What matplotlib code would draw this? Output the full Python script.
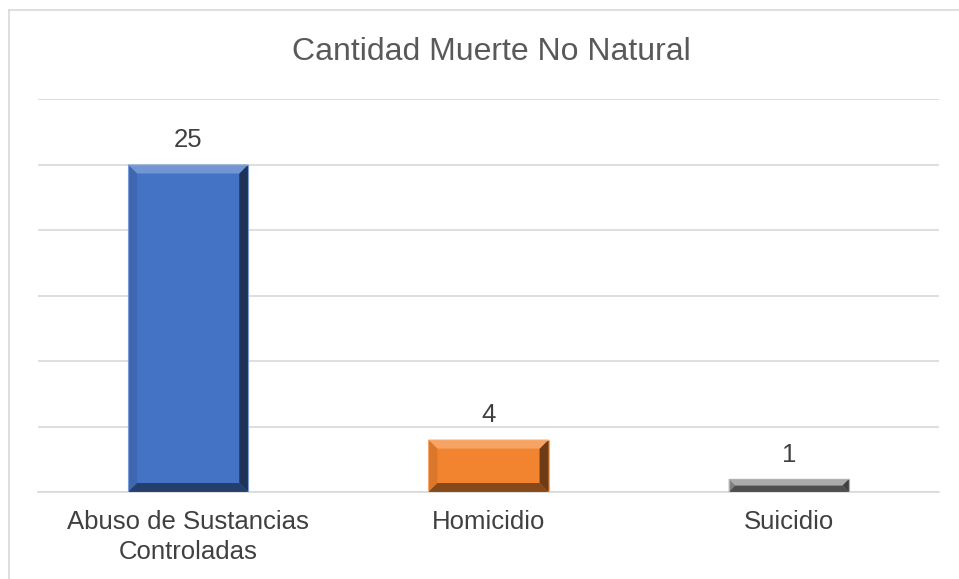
import numpy as np
import matplotlib.pyplot as plt
from matplotlib.patches import Polygon, Rectangle
from matplotlib.colors import to_rgb

plt.rcParams['font.family'] = ['Liberation Sans', 'DejaVu Sans']

categories = ['Abuso de Sustancias\nControladas', 'Homicidio', 'Suicidio']
values = [25, 4, 1]
colors = ['#4472C4', '#F3842F', '#8E8E8E']


def shade(c, f):
    r = np.array(to_rgb(c))
    if f > 0:
        return tuple(r + (1 - r) * f)
    return tuple(r * (1 + f))


fig = plt.figure(figsize=(9.59, 5.79), dpi=100)
# chart border (left/top only visible in the crop)
fig.add_artist(plt.Line2D([9 / 959, 9 / 959], [0, 1 - 10 / 579], color='#D9D9D9', lw=1.2))
fig.add_artist(plt.Line2D([9 / 959, 1], [1 - 10 / 579, 1 - 10 / 579], color='#D9D9D9', lw=1.2))

ax = fig.add_axes([38 / 959, 87 / 579, 901 / 959, 393 / 579])
x = np.arange(len(categories))
bars = ax.bar(x, values, width=0.4, color=colors, edgecolor='none', zorder=2)

ax.set_xlim(-0.5, 2.5)
ax.set_ylim(0, 30)
ax.set_yticks(np.arange(0, 31, 5))
ax.yaxis.grid(True, color='#D9D9D9', lw=1.2, zorder=0)
ax.tick_params(axis='y', length=0, labelleft=False)
ax.tick_params(axis='x', length=0, labelsize=18.5, labelcolor='#404040', pad=13)
ax.set_xticks(x)
ax.set_xticklabels(categories, linespacing=1.3)
for s in ['top', 'right', 'left']:
    ax.spines[s].set_visible(False)
ax.spines['bottom'].set_color('#D9D9D9')
ax.spines['bottom'].set_linewidth(1.2)

# bevel effect computed from each bar's rectangle
px_x = 3.0 / 901
px_y = 30.0 / 393
for b, c in zip(bars, colors):
    x0, y0 = b.get_x(), b.get_y()
    w, h = b.get_width(), b.get_height()
    x1, y1 = x0 + w, y0 + h
    bpx = min(9, h / px_y / 2)
    dx, dy = bpx * px_x, bpx * px_y
    top = [(x0, y1), (x1, y1), (x1 - dx, y1 - dy), (x0 + dx, y1 - dy)]
    bot = [(x0, y0), (x1, y0), (x1 - dx, y0 + dy), (x0 + dx, y0 + dy)]
    left = [(x0, y0), (x0, y1), (x0 + dx, y1 - dy), (x0 + dx, y0 + dy)]
    right = [(x1, y0), (x1, y1), (x1 - dx, y1 - dy), (x1 - dx, y0 + dy)]
    ax.add_patch(Polygon(left, color=shade(c, -0.1), lw=0, zorder=3))
    ax.add_patch(Polygon(right, color=shade(c, -0.55), lw=0, zorder=3))
    ax.add_patch(Polygon(bot, color=shade(c, -0.45), lw=0, zorder=3))
    ax.add_patch(Polygon(top, color=shade(c, 0.25), lw=0, zorder=3))
    ax.add_patch(Rectangle((x0, y0), w, h, fill=False, ec=shade(c, 0.3), lw=0.8, zorder=4))
    ax.annotate(str(int(h)), (b.get_x() + w / 2, y1), xytext=(0, 12.5), textcoords='offset points',
                ha='center', va='baseline', fontsize=18.5, color='#404040')

fig.text(491 / 959, 1 - 60 / 579, 'Cantidad Muerte No Natural', ha='center', va='baseline',
         fontsize=23, color='#595959')

fig.savefig('out.png', dpi=100)
